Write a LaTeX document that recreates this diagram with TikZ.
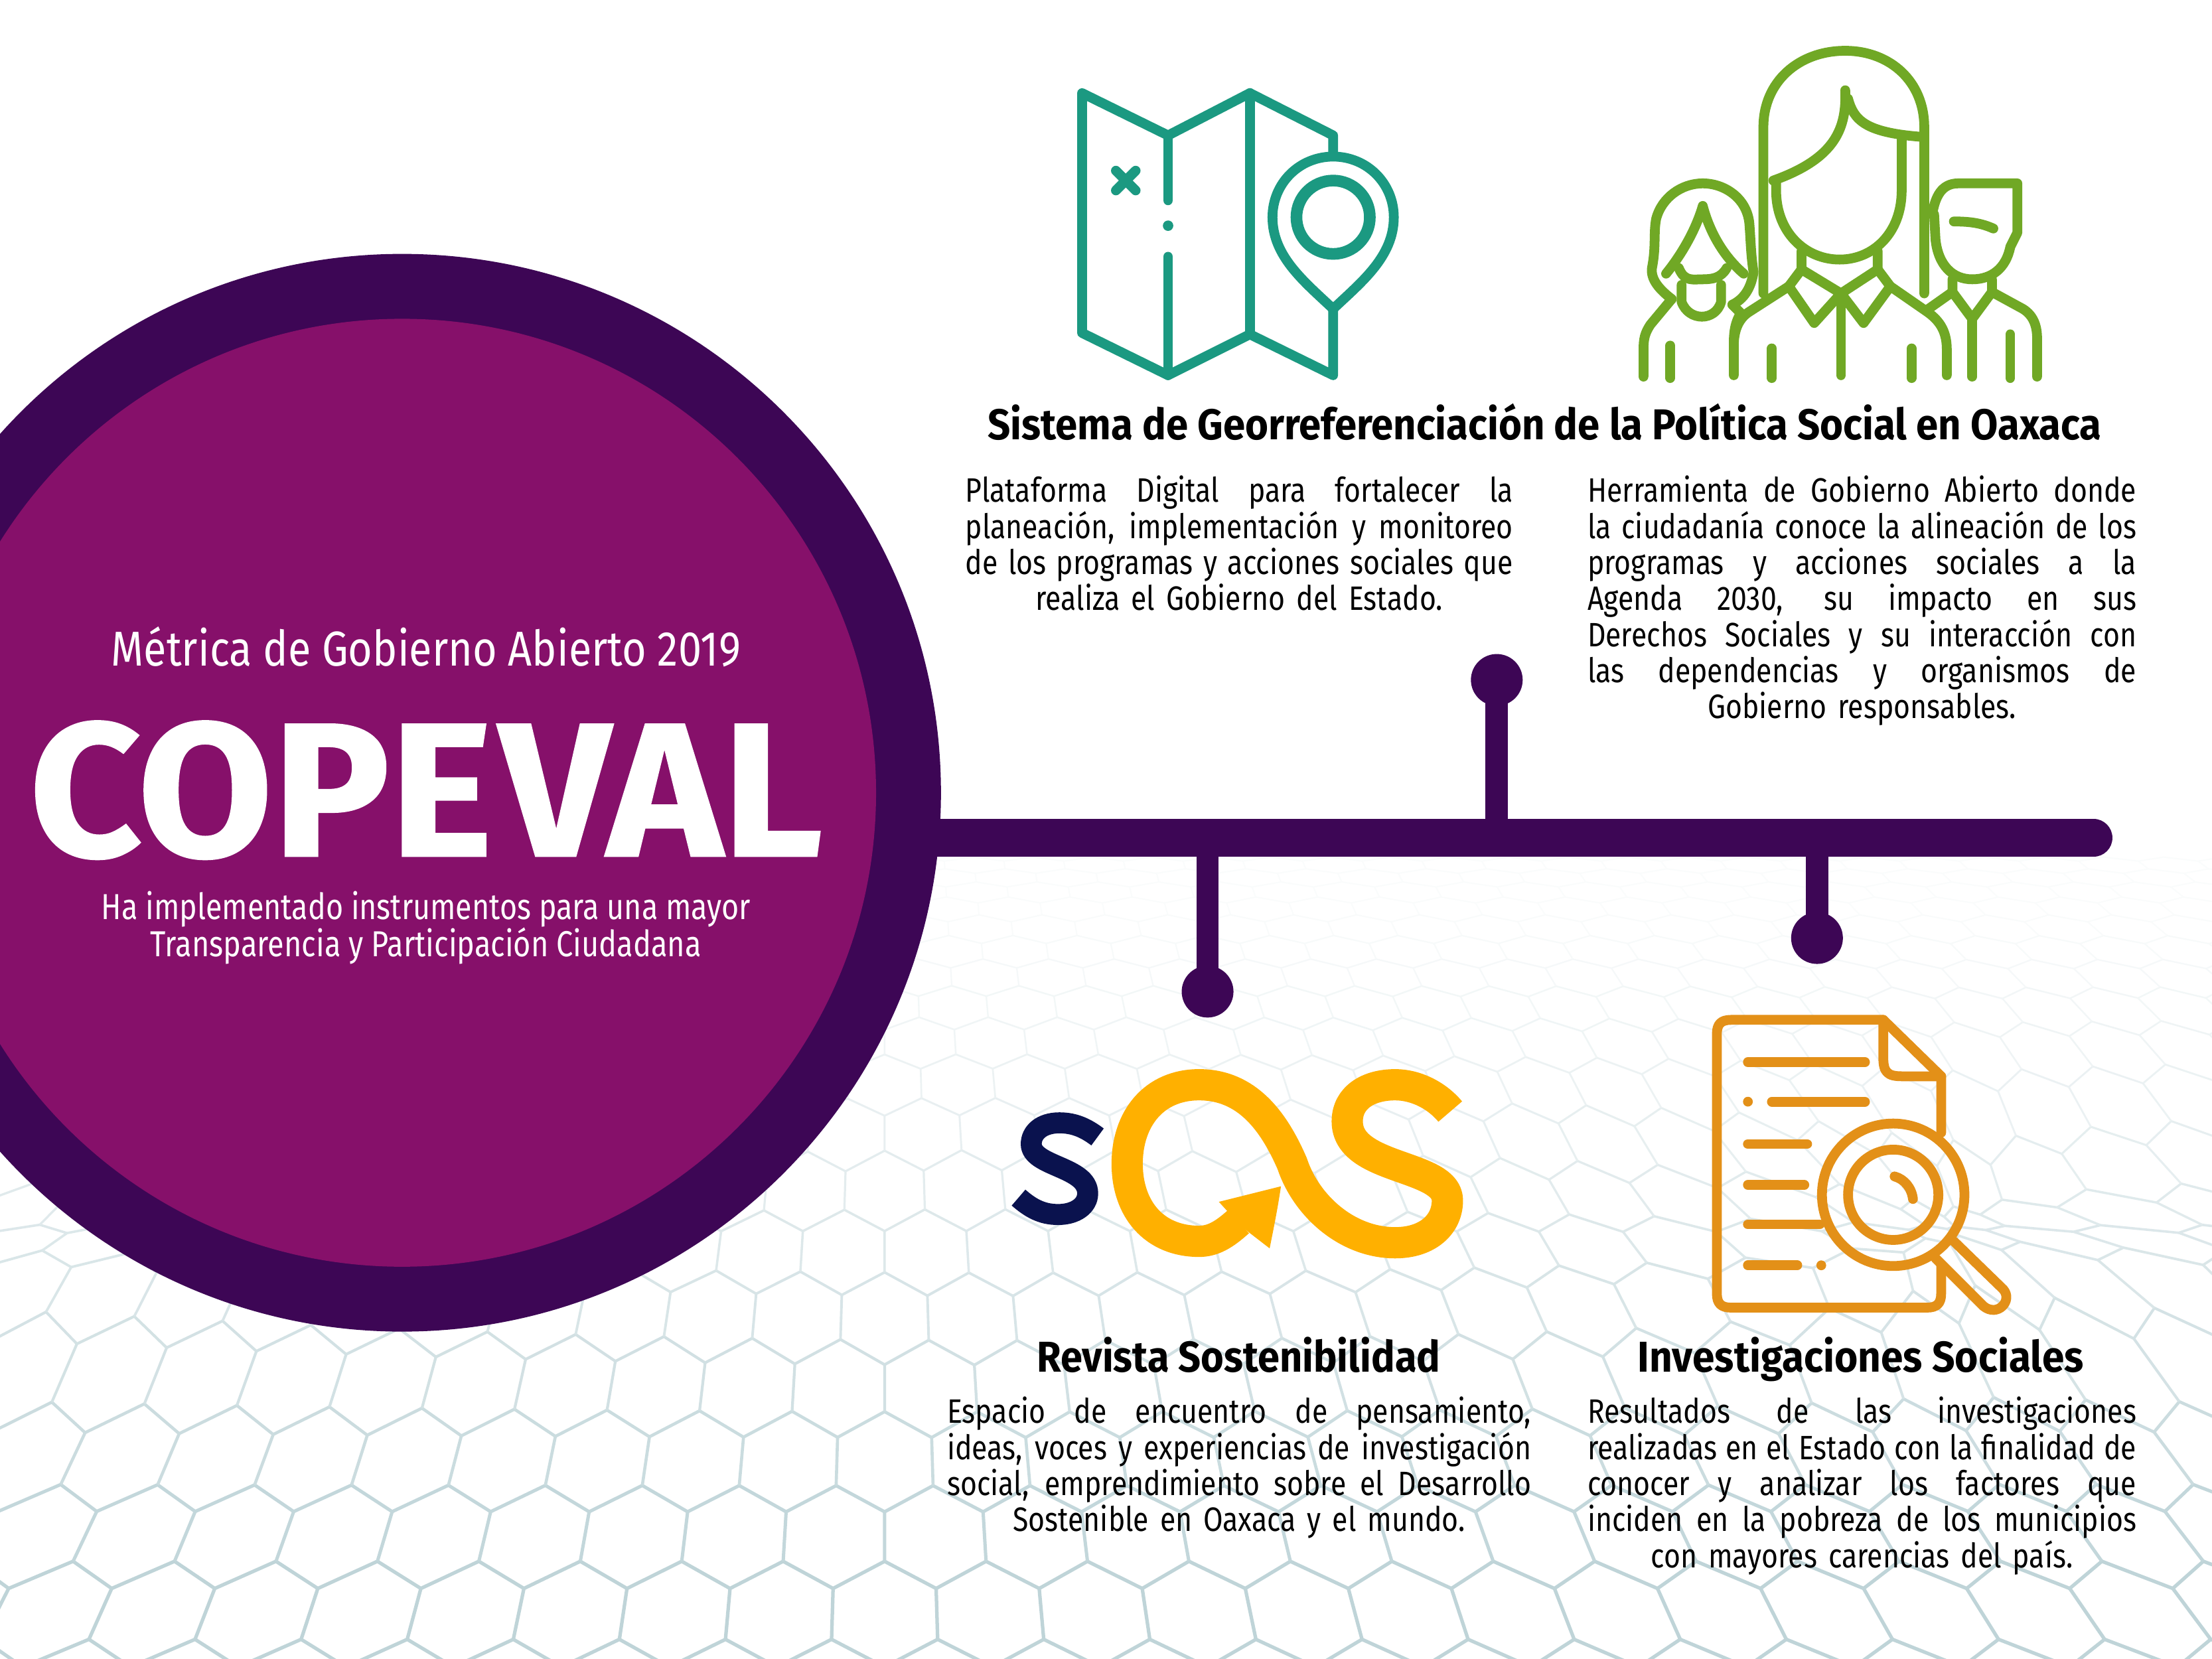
\documentclass[tikz,border=0pt]{standalone}
\usepackage{fontspec}
\setmainfont{Fira Sans}
\newfontfamily\bodyf[FakeStretch=0.84]{Fira Sans}
\newfontfamily\heavyf[BoldFeatures={FakeBold=0.8}]{Fira Sans}
\definecolor{deep}{HTML}{3D0655}
\definecolor{plum}{HTML}{86106A}
\definecolor{teal}{HTML}{1B9981}
\definecolor{leaf}{HTML}{70A825}
\definecolor{amber}{HTML}{E39018}
\definecolor{gold}{HTML}{FFB000}
\definecolor{navy}{HTML}{0A124E}
\definecolor{meshc}{HTML}{BFD4D8}
\newcommand\fitw[2]{\resizebox{#1}{\height}{#2}}
\newlength\lw
\newcommand\jl[1]{\leavevmode\hbox to \lw{\spaceskip=0.2em plus 1fil minus 0.12em\xspaceskip=\spaceskip #1}}
\def\Yrows{{1311,1255,1200,1144,1089,1036,984,934,887,843,802,767,738,713,692,674,658,644,632,622,613,605}}
% grid point (a,b) -> picture point, results in #3 and #4
\newcommand\meshV[4]{%
  \pgfmathtruncatemacro\mk{floor(#2)}%
  \pgfmathsetmacro\my{\Yrows[\mk]+(#2-\mk)*(\Yrows[\mk+1]-\Yrows[\mk])}%
  \pgfmathsetmacro\mx{627+(#1)*71.5*((\my+100)/1200)}%
  \pgfmathsetmacro\mdy{\my-875}%
  \pgfmathsetmacro\mP{0.65*min(1,((\mx-720)/680)^2)}%
  \pgfmathsetmacro\my{875+\mdy*(1-\mP*exp(-min(9,(\mdy/80)^2)))}%
  \pgfmathsetmacro\mf{0.7*exp(-min(9,((\mx-1380)/110)^2+((\my-870)/70)^2))}%
  \pgfmathsetmacro#3{\mx+(1380-\mx)*\mf}%
  \pgfmathsetmacro#4{\my+(870-\my)*\mf}%
}
\tikzset{
  x=0.021258cm,y=-0.021258cm,
  icon/.style={line width=4.2pt,line cap=round,line join=round},
  para/.style={anchor=north west,inner sep=0pt,align=center,font=\bodyf\fontsize{14.5}{15.45}\selectfont,text=black},
  hd/.style={anchor=base,inner sep=0pt,font=\bfseries\fontsize{18.5}{22}\selectfont,text=black},
  wht/.style={anchor=base,inner sep=0pt,text=white},
  dot/.style={circle,fill=deep,draw=none,minimum size=0.78cm,inner sep=0pt},
  stem/.style={draw=deep,line width=9.6pt},
}
\begin{document}
\begin{tikzpicture}
\useasboundingbox (0,0) rectangle (1568,1176);
\fill[white] (0,0) rectangle (1568,1176);
% mesh
\begin{scope}
\clip (0,0) rectangle (1568,1176);
\foreach \j in {1,...,20}{
  \pgfmathtruncatemacro\jodd{1-mod(\j,2)}
  \foreach \i in {-17,...,24}{
    \pgfmathsetmacro\ca{\i+0.5*\jodd}
    \meshV{\ca}{\j+0.675}{\xa}{\ya}
    \pgfmathtruncatemacro\keep{(\xa>-120)&&(\xa<1690)}
    \ifnum\keep=1
      \meshV{\ca-0.5}{\j+0.325}{\xb}{\yb}
      \meshV{\ca+0.5}{\j+0.325}{\xc}{\yc}
      \meshV{\ca-0.5}{\j-0.325}{\xd}{\yd}
      \pgfmathsetmacro\op{100*min(1,max(0.08,(\ya-605)/480))}
      \pgfmathsetmacro\lwd{0.45+1.05*\op/100}
      \draw[draw=meshc!\op!white,line width=\lwd pt,line join=miter]
        (\xb,\yb) -- (\xa,\ya) -- (\xc,\yc) (\xb,\yb) -- (\xd,\yd);
    \fi
  }
}
\end{scope}
% timeline bar and stems
\coordinate (barA) at (660,594);
\coordinate (barB) at (1484,594);
\draw[draw=deep,line width=16.2pt,line cap=round] (barA) -- (barB);
\node[dot] (dotA) at (1061,482) {};
\coordinate (tapA) at (1061,594);
\draw[stem] (dotA.center) -- (tapA);
\node[dot] (dotB) at (856,703) {};
\coordinate (tapB) at (856,594);
\draw[stem] (dotB.center) -- (tapB);
\node[dot] (dotC) at (1288,665) {};
\coordinate (tapC) at (1288,594);
\draw[stem] (dotC.center) -- (tapC);
% big circle
\fill[deep] (285,562) circle [radius=382];
\fill[plum] (285,562) circle [radius=336];
\node[wht,font=\fontsize{21}{26}\selectfont] (metric) at (302,472) {\fitw{9.48cm}{Métrica de Gobierno Abierto 2019}};
\node[wht,font=\heavyf\bfseries\fontsize{86}{90}\selectfont] (copeval) at (302,607) {\resizebox{11.95cm}{2.04cm}{COPE\kern3pt VAL}};
\node[wht,font=\fontsize{15.5}{18}\selectfont] (ha1) at (302,652) {\fitw{9.78cm}{Ha implementado instrumentos para una mayor}};
\node[wht,font=\fontsize{15.5}{18}\selectfont] (ha2) at (302,678) {\fitw{8.3cm}{Transparencia y Participación Ciudadana}};
% map icon
\begin{scope}[icon,draw=teal]
\draw (945,110) -- (945,96) -- (886,66) -- (828,96) -- (767,66) -- (767,236) -- (828,266) -- (886,237) -- (945,266) -- (945,218);
\draw (828,96) -- (828,142);
\draw (828,182) -- (828,266);
\draw (886,66) -- (886,237);
\fill[teal] (828,160) circle [radius=3.7];
\draw (791,121) -- (805,135) (805,121) -- (791,135);
\draw (945,219) .. controls (925,200) and (902,182) .. (902,154) .. controls (902,130) and (921,111) .. (945,111) .. controls (969,111) and (988,130) .. (988,154) .. controls (988,182) and (965,200) .. (945,219) -- cycle;
\draw[line width=5pt] (945,154) circle [radius=26];
\end{scope}
% people icon
\begin{scope}[icon,draw=leaf]
% centre figure
\draw (1250,208) -- (1250,90) .. controls (1250,58) and (1275,36) .. (1308,36) .. controls (1340,36) and (1364,58) .. (1364,90) -- (1364,208);
\draw (1308,64) .. controls (1309,90) and (1302,112) .. (1257,128);
\draw (1310,70) .. controls (1314,85) and (1322,94) .. (1362,97);
\draw (1259,128) -- (1259,135) .. controls (1259,165) and (1280,184) .. (1304,184) .. controls (1328,184) and (1348,165) .. (1348,135) -- (1348,99);
\draw (1277,178) -- (1277,191) -- (1305,208) -- (1331,191) -- (1331,178);
\draw (1277,191) -- (1268,203) -- (1286,229) -- (1305,208) -- (1321,229) -- (1340,203) -- (1331,191);
\draw (1305,208) -- (1305,266);
\draw (1268,203) -- (1240,221) .. controls (1232,226) and (1229,235) .. (1229,245) -- (1229,266);
\draw (1340,203) -- (1366,221) .. controls (1376,228) and (1380,236) .. (1380,248) -- (1380,266);
\draw (1256,247) -- (1256,268);
\draw (1355,247) -- (1355,268);
% left figure
\draw (1185,212) .. controls (1176,205) and (1170,198) .. (1171,190) .. controls (1174,175) and (1172,165) .. (1174,155) .. controls (1178,140) and (1192,130) .. (1207,130) .. controls (1222,130) and (1238,140) .. (1240,158) .. controls (1241,170) and (1241,180) .. (1243,193) .. controls (1241,205) and (1236,212) .. (1228,216);
\draw (1181,194) .. controls (1194,178) and (1203,160) .. (1207,146) .. controls (1212,165) and (1222,182) .. (1236,194);
\draw (1190,190) .. controls (1194,200) and (1200,198) .. (1207,198) .. controls (1214,198) and (1220,197) .. (1224,190);
\draw (1192,202) -- (1192,214) .. controls (1197,228) and (1216,228) .. (1220,214) -- (1220,202);
\draw (1185,212) -- (1170,230) .. controls (1166,236) and (1165,240) .. (1165,248) -- (1165,267);
\draw (1228,216) -- (1234,222) .. controls (1229,230) and (1229,238) .. (1229,245);
\draw (1184,245) -- (1184,268);
% right figure
\draw (1370,150) .. controls (1372,140) and (1376,130) .. (1388,130) -- (1430,130) -- (1430,165) -- (1425,175) .. controls (1422,190) and (1412,198) .. (1398,198) .. controls (1384,198) and (1374,188) .. (1372,170) -- (1371,152);
\draw (1385,157) .. controls (1396,157) and (1404,158) .. (1413,162);
\draw (1384,198) -- (1384,207) -- (1398,226) -- (1412,207) -- (1412,198);
\draw (1412,207) -- (1434,219) .. controls (1442,224) and (1444,232) .. (1444,240) -- (1444,267);
\draw (1384,207) -- (1367,219);
\draw (1398,226) -- (1398,267);
\draw (1425,237) -- (1425,268);
\end{scope}
% document icon
\begin{scope}[icon,draw=amber]
\draw (1376,803) -- (1376,763) -- (1335,723) -- (1227,723) .. controls (1220,723) and (1217,726) .. (1217,733) -- (1217,917) .. controls (1217,924) and (1220,927) .. (1227,927) -- (1366,927) .. controls (1373,927) and (1376,924) .. (1376,917) -- (1376,897);
\draw (1335,723) -- (1335,750) .. controls (1335,760) and (1338,763) .. (1348,763) -- (1376,763);
\draw (1239,753) -- (1322,753);
\draw (1256,781) -- (1322,781);
\draw (1239,781) -- (1239,781);
\draw (1239,811) -- (1281,811);
\draw (1239,840) -- (1279,840);
\draw (1239,868) -- (1290,868);
\draw (1239,897) -- (1274,897);
\draw (1291,897) -- (1291,897);
\draw (1342,847) circle [radius=50.5];
\draw (1342,847) circle [radius=32];
\draw (1343,834) .. controls (1350,836) and (1355,842) .. (1356,850);
\draw (1385,880) -- (1420,914) .. controls (1427,922) and (1416,934) .. (1406,926) -- (1372,892);
\end{scope}
% sOS logo
\draw[draw=gold,line width=13.4pt,line join=round]
  (878,866) .. controls (868,875) and (860,880) .. (850,880)
  .. controls (818,880) and (799,857) .. (799,825)
  .. controls (799,793) and (818,769) .. (850,769)
  .. controls (884,769) and (903,795) .. (916,825)
  .. controls (926,855) and (955,881) .. (989,881)
  .. controls (1012,881) and (1026,868) .. (1026,851)
  .. controls (1026,825) and (955,830) .. (955,795)
  .. controls (955,778) and (970,769) .. (989,769)
  .. controls (1003,769) and (1018,776) .. (1028,788);
\fill[gold] (908,841) -- (864,852) -- (874,863) -- (878,868) -- (900,885) .. controls (903,870) and (906,855) .. (908,841) -- cycle;
\draw[draw=navy,line width=9pt]
  (778,806) .. controls (770,800) and (762,796) .. (751,796)
  .. controls (738,796) and (731,803) .. (731,811)
  .. controls (731,827) and (771,827) .. (771,846)
  .. controls (771,855) and (762,861) .. (750,861)
  .. controls (738,861) and (730,856) .. (722,849);
% headings
\node[hd] (hA) at (1095,311.5) {\fitw{16.78cm}{Sistema de Georreferenciación de la Política Social en Oaxaca}};
\node[hd] (hB) at (878,972.5) {\fitw{6.08cm}{Revista Sostenibilidad}};
\node[hd] (hC) at (1319,972.5) {\fitw{6.72cm}{Investigaciones Sociales}};
% paragraphs
\node[para,text width=8.25cm] (pA) at (684,337) {\setlength\lw{8.25cm}%
\jl{Plataforma Digital para fortalecer la}\\
\jl{planeación, implementación y monitoreo}\\
\jl{de los programas y acciones sociales que}\\
realiza el Gobierno del Estado.};
\node[para,text width=8.27cm] (pB) at (1125,337) {\setlength\lw{8.27cm}%
\jl{Herramienta de Gobierno Abierto donde}\\
\jl{la ciudadanía conoce la alineación de los}\\
\jl{programas y acciones sociales a la}\\
\jl{Agenda 2030, su impacto en sus}\\
\jl{Derechos Sociales y su interacción con}\\
\jl{las dependencias y organismos de}\\
Gobierno responsables.};
\node[para,text width=8.80cm] (pC) at (671,990) {\setlength\lw{8.80cm}%
\jl{Espacio de encuentro de pensamiento,}\\
\jl{ideas, voces y experiencias de investigación}\\
\jl{social, emprendimiento sobre el Desarrollo}\\
Sostenible en Oaxaca y el mundo.};
\node[para,text width=8.27cm] (pD) at (1125,990) {\setlength\lw{8.27cm}%
\jl{Resultados de las investigaciones}\\
\jl{realizadas en el Estado con la finalidad de}\\
\jl{conocer y analizar los factores que}\\
\jl{inciden en la pobreza de los municipios}\\
con mayores carencias del país.};
\end{tikzpicture}
\end{document}
